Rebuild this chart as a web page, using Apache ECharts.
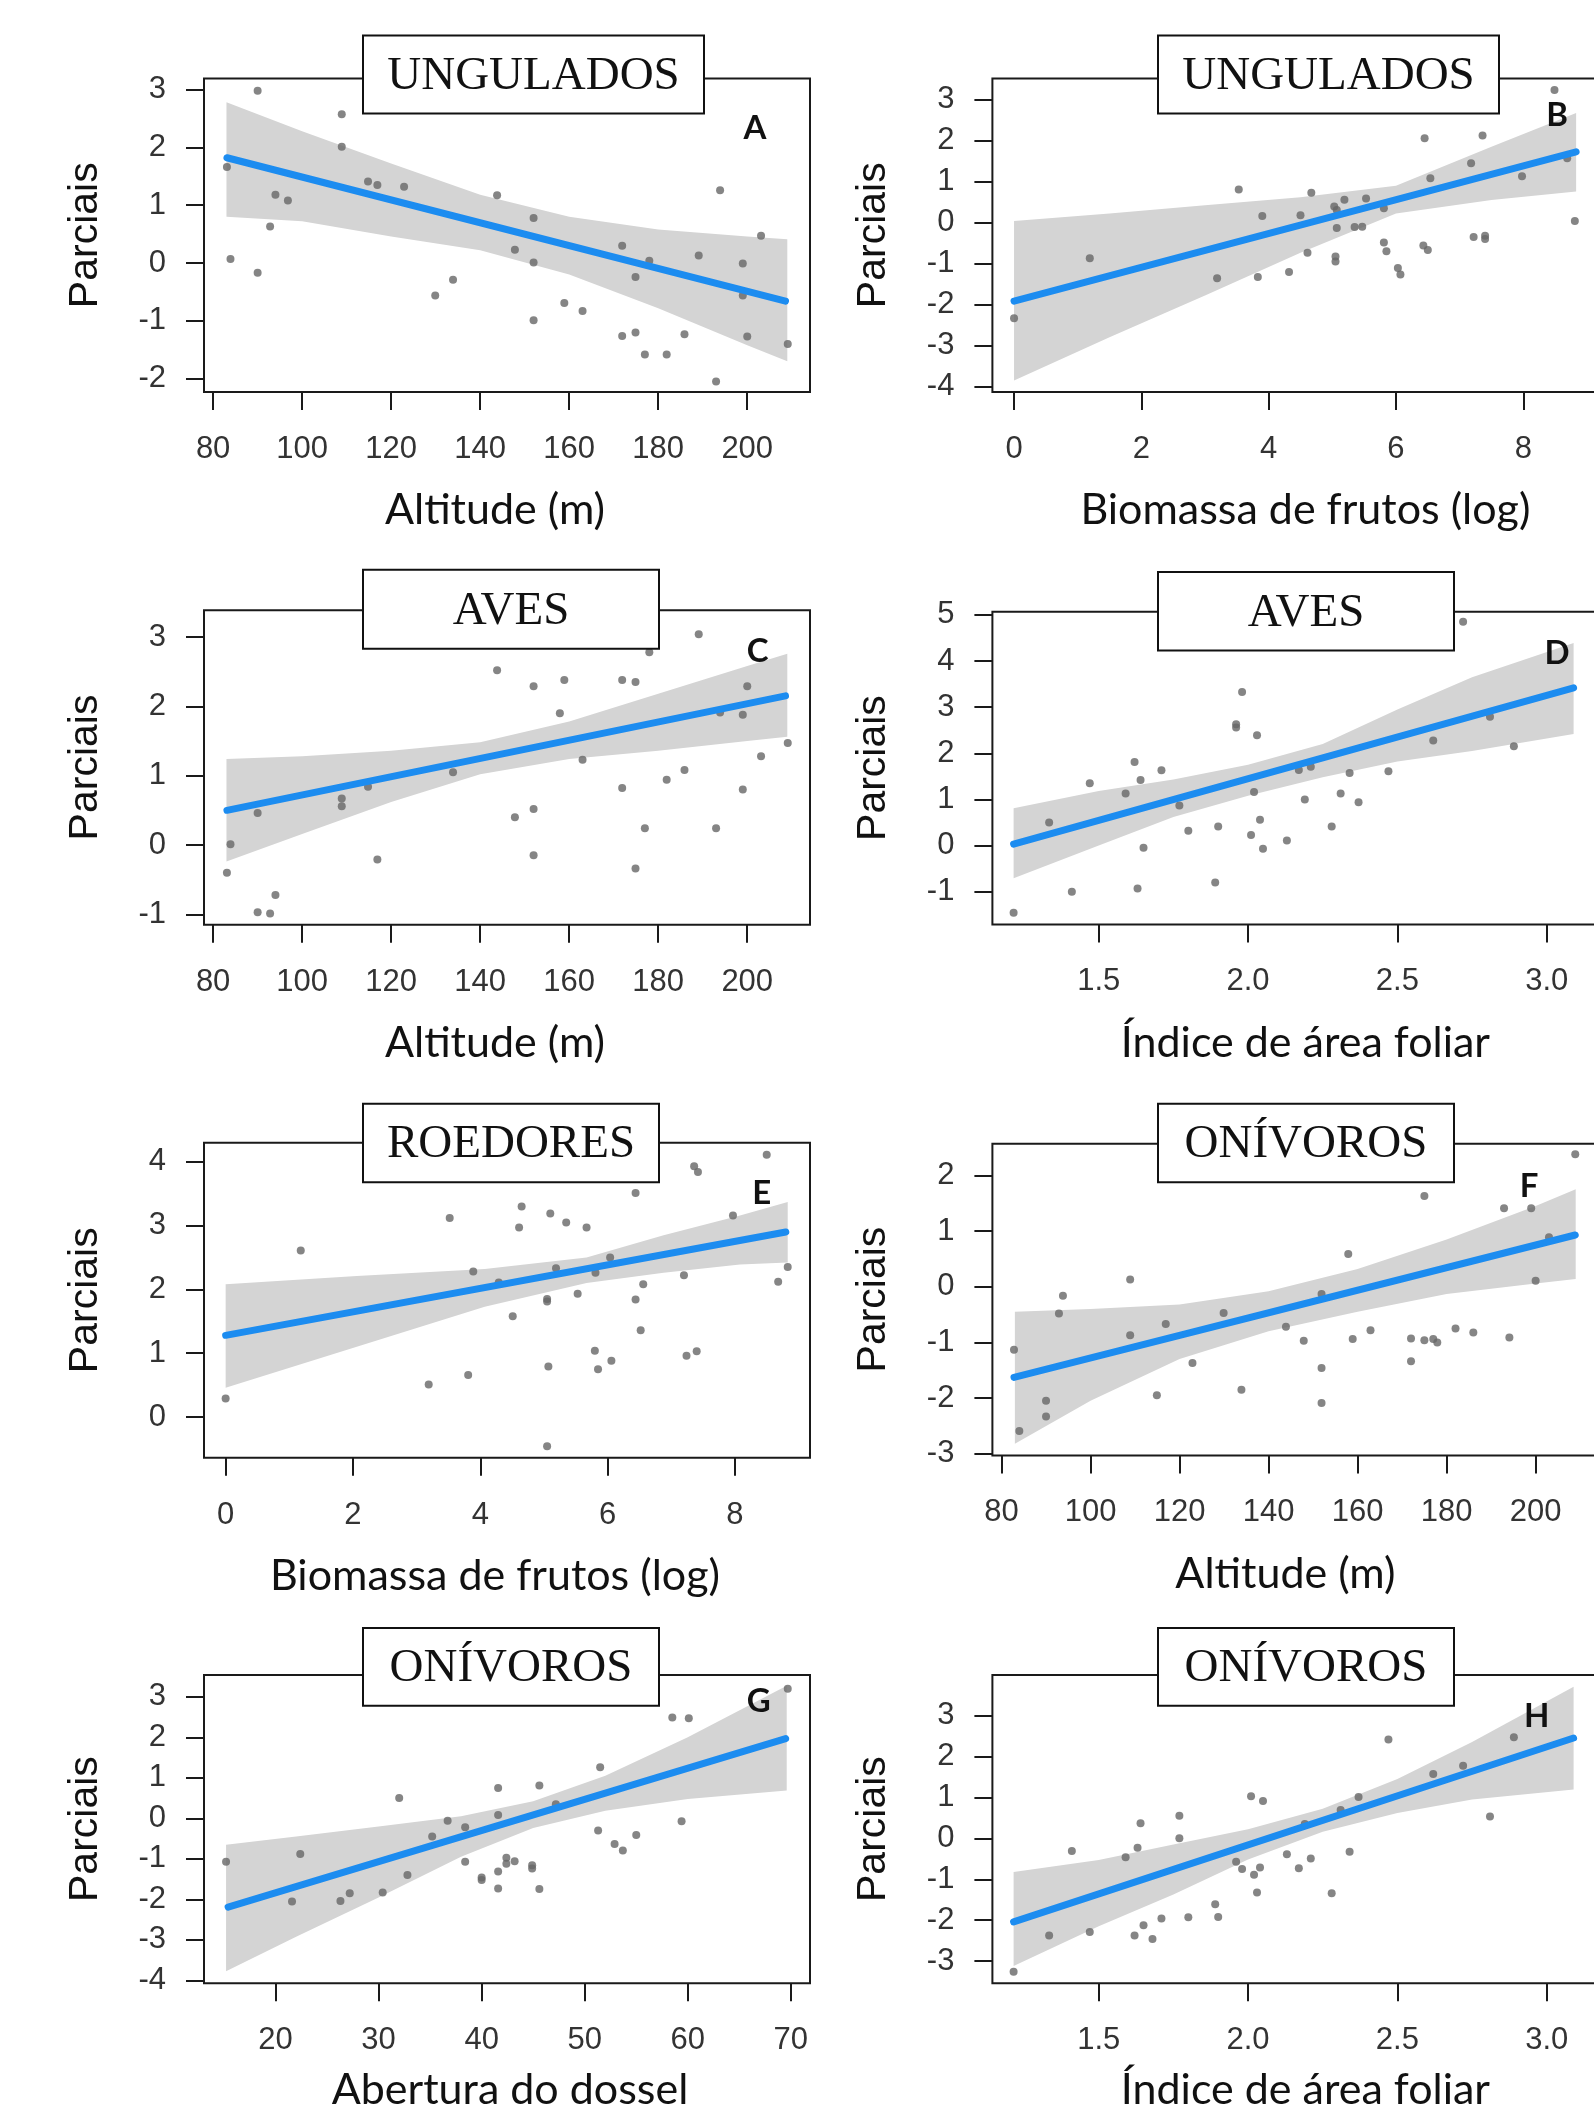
<!DOCTYPE html>
<html>
<head>
<meta charset="utf-8">
<title>Parciais</title>
<script src="https://cdn.jsdelivr.net/npm/echarts@6/dist/echarts.min.js"></script>
<style>
  html, body { margin: 0; padding: 0; background: #fff; }
  #chart { width: 1594px; height: 2115px; }
</style>
</head>
<body>
<div id="chart"></div>
<script>
// x tick labels
const altitudeTicks = [80, 100, 120, 140, 160, 180, 200]
const biomassTicks = [0, 2, 4, 6, 8]
const leafTicks = [1.5, 2.0, 2.5, 3.0]
const canopyTicks = [20, 30, 40, 50, 60, 70]

// y tick labels
const aTicksY = [-2, -1, 0, 1, 2, 3]
const bTicksY = [-4, -3, -2, -1, 0, 1, 2, 3]
const cTicksY = [-1, 0, 1, 2, 3]
const dTicksY = [-1, 0, 1, 2, 3, 4, 5]
const eTicksY = [0, 1, 2, 3, 4]
const fTicksY = [-3, -2, -1, 0, 1, 2]
const gTicksY = [-4, -3, -2, -1, 0, 1, 2, 3]
const hTicksY = [-3, -2, -1, 0, 1, 2, 3]

// A - ungulados / altitude
const aX = [83.1, 83.9, 90.0, 90.0, 92.8, 94.0, 96.8, 108.9, 108.9, 114.8, 116.9, 122.9, 129.9, 133.9, 143.8, 147.8, 152.0, 152.0, 152.0, 158.9, 163.0, 171.9, 171.9, 174.9, 174.9, 177.0, 178.0, 181.9, 185.9, 189.1, 193.0, 193.9, 199.0, 199.0, 200.0, 203.1, 209.1]
const aY = [1.66, 0.07, 2.98, -0.17, 0.63, 1.18, 1.08, 2.57, 2.01, 1.41, 1.35, 1.32, -0.56, -0.29, 1.17, 0.23, 0.78, 0.01, -0.99, -0.69, -0.83, 0.30, -1.26, -0.24, -1.20, -1.58, 0.04, -1.58, -1.23, 0.13, -2.05, 1.26, -0.01, -0.56, -1.27, 0.47, -1.40]
const aFitX = [83.1, 208.6]
const aFitY = [1.82, -0.66]
const aBandX = [83, 100, 120, 140, 160, 180, 200, 209]
const aBandUp = [2.78, 2.28, 1.72, 1.18, 0.80, 0.58, 0.46, 0.41]
const aBandLo = [0.80, 0.72, 0.46, 0.22, -0.20, -0.78, -1.42, -1.70]

// B - ungulados / biomassa de frutos
const bX = [0.0, 1.19, 3.19, 3.53, 3.83, 3.90, 4.32, 4.50, 4.61, 4.67, 5.03, 5.07, 5.05, 5.05, 5.07, 5.19, 5.35, 5.47, 5.53, 5.81, 5.81, 5.85, 6.03, 6.07, 6.45, 6.43, 6.50, 6.54, 7.18, 7.22, 7.36, 7.40, 7.40, 7.98, 8.49, 8.69, 8.81]
const bY = [-2.34, -0.87, -1.36, 0.81, -1.33, 0.16, -1.21, 0.18, -0.74, 0.73, 0.39, 0.31, -0.83, -0.95, -0.13, 0.56, -0.11, -0.10, 0.59, 0.35, -0.49, -0.70, -1.11, -1.27, 2.06, -0.56, -0.67, 1.08, 1.45, -0.35, 2.13, -0.32, -0.40, 1.13, 3.24, 1.57, 0.04]
const bFitX = [0, 8.83]
const bFitY = [-1.92, 1.73]
const bBandX = [0, 1.5, 3, 4.5, 6, 7.5, 8.83]
const bBandUp = [0.04, 0.22, 0.42, 0.62, 0.90, 1.85, 2.68]
const bBandLo = [-3.86, -2.80, -1.78, -0.74, 0.22, 0.55, 0.76]

// C - aves / altitude
const cX = [83.1, 83.9, 90.0, 90.0, 92.8, 94.0, 108.9, 108.9, 114.8, 116.9, 133.9, 143.8, 147.8, 152.0, 152.0, 152.0, 157.9, 158.9, 163.0, 171.9, 171.9, 174.9, 174.9, 177.0, 178.0, 181.9, 185.9, 189.1, 193.0, 193.9, 199.0, 199.0, 200.0, 203.1, 209.1]
const cY = [-0.40, 0.01, 0.46, -0.97, -0.99, -0.72, 0.67, 0.56, 0.84, -0.21, 1.05, 2.52, 0.40, 2.29, 0.52, -0.15, 1.90, 2.38, 1.23, 2.38, 0.82, 2.35, -0.34, 0.24, 2.78, 0.94, 1.08, 3.04, 0.24, 1.91, 1.88, 0.80, 2.29, 1.28, 1.47]
const cFitX = [83.1, 208.6]
const cFitY = [0.50, 2.15]
const cBandX = [83, 100, 120, 140, 160, 180, 200, 209]
const cBandUp = [1.24, 1.28, 1.36, 1.48, 1.78, 2.18, 2.58, 2.76]
const cBandLo = [-0.24, 0.16, 0.62, 1.02, 1.24, 1.36, 1.50, 1.56]

// D - aves / indice de area foliar
const dX = [1.215, 1.334, 1.41, 1.47, 1.59, 1.62, 1.63, 1.64, 1.65, 1.71, 1.77, 1.80, 1.89, 1.90, 1.96, 1.96, 1.98, 2.01, 2.02, 2.03, 2.04, 2.05, 2.13, 2.17, 2.19, 2.21, 2.28, 2.31, 2.34, 2.37, 2.47, 2.62, 2.72, 2.81, 2.89]
const dY = [-1.46, 0.50, -1.00, 1.35, 1.13, 1.81, -0.93, 1.42, -0.05, 1.63, 0.87, 0.32, -0.80, 0.41, 2.56, 2.63, 3.33, 0.23, 1.16, 2.39, 0.56, -0.07, 0.11, 1.64, 1.00, 1.71, 0.41, 1.13, 1.57, 0.94, 1.61, 2.28, 4.85, 2.79, 2.15]
const dFitX = [1.215, 3.09]
const dFitY = [0.03, 3.42]
const dBandX = [1.215, 1.5, 1.75, 2.0, 2.25, 2.5, 2.75, 3.09]
const dBandUp = [0.81, 1.18, 1.43, 1.75, 2.20, 2.95, 3.65, 4.39]
const dBandLo = [-0.71, 0.0, 0.62, 1.08, 1.48, 1.82, 2.05, 2.42]

// E - roedores / biomassa de frutos
const eX = [0.0, 1.18, 3.19, 3.52, 3.81, 3.89, 4.29, 4.51, 4.61, 4.65, 5.05, 5.05, 5.07, 5.05, 5.10, 5.19, 5.35, 5.53, 5.67, 5.80, 5.81, 5.85, 6.04, 6.06, 6.44, 6.44, 6.52, 6.56, 7.20, 7.24, 7.36, 7.42, 7.40, 7.97, 8.50, 8.68, 8.83]
const eY = [0.29, 2.61, 0.51, 3.12, 0.66, 2.28, 2.11, 1.58, 2.97, 3.30, 1.85, 1.81, 0.79, -0.46, 3.19, 2.33, 3.05, 1.93, 2.97, 1.04, 2.26, 0.75, 2.50, 0.88, 3.51, 1.84, 1.36, 2.08, 2.22, 0.96, 3.93, 3.84, 1.03, 3.16, 4.11, 2.12, 2.35]
const eFitX = [0, 8.80]
const eFitY = [1.28, 2.90]
const eBandX = [0, 2.06, 4.07, 5.67, 6.88, 8.08, 8.83]
const eBandUp = [2.08, 2.21, 2.32, 2.50, 2.85, 3.16, 3.37]
const eBandLo = [0.46, 1.10, 1.73, 2.10, 2.26, 2.39, 2.42]

// F - onivoros / altitude
const fX = [82.8, 84.0, 90.0, 90.0, 92.9, 93.8, 108.9, 108.9, 114.9, 116.9, 122.9, 129.9, 133.9, 143.9, 147.9, 151.9, 151.9, 151.9, 157.9, 158.9, 162.9, 172.0, 172.0, 175.0, 175.0, 177.0, 177.9, 182.0, 186.0, 192.9, 194.1, 199.0, 200.0, 203.0, 208.9]
const fY = [-1.13, -2.59, -2.05, -2.33, -0.48, -0.16, 0.13, -0.87, -1.95, -0.67, -1.37, -0.47, -1.85, -0.72, -0.97, -0.13, -1.46, -2.09, 0.59, -0.94, -0.78, -0.93, -1.34, 1.63, -0.96, -0.94, -1.00, -0.75, -0.82, 1.41, -0.91, 1.41, 0.11, 0.89, 2.38]
const fFitX = [82.8, 208.9]
const fFitY = [-1.63, 0.93]
const fBandX = [83, 100, 120, 140, 160, 180, 200, 209]
const fBandUp = [-0.45, -0.40, -0.32, -0.08, 0.32, 0.85, 1.45, 1.75]
const fBandLo = [-2.82, -2.05, -1.30, -0.80, -0.45, -0.13, 0.06, 0.14]

// G - onivoros / abertura do dossel
const gX = [15.2, 21.6, 22.4, 26.3, 27.2, 30.4, 32.0, 32.8, 35.2, 36.7, 38.4, 38.4, 40.0, 40.0, 41.6, 41.6, 41.6, 41.6, 42.4, 42.4, 43.2, 44.9, 44.9, 45.6, 45.6, 47.2, 51.3, 51.5, 52.9, 53.7, 55.0, 58.5, 59.4, 60.1, 69.7]
const gY = [-1.07, -2.05, -0.88, -2.04, -1.85, -1.83, 0.50, -1.40, -0.45, -0.06, -0.22, -1.07, -1.46, -1.52, 0.75, 0.08, -1.31, -1.73, -0.97, -1.12, -1.06, -1.16, -1.24, 0.81, -1.74, 0.35, -0.30, 1.26, -0.63, -0.79, -0.41, 2.49, -0.07, 2.47, 3.20]
const gFitX = [15.4, 69.5]
const gFitY = [-2.19, 1.97]
const gBandX = [15.2, 22, 30, 38, 45, 52, 60, 69.6]
const gBandUp = [-0.65, -0.45, -0.20, 0.05, 0.42, 1.05, 2.00, 3.27]
const gBandLo = [-3.77, -2.92, -1.95, -0.95, -0.24, 0.19, 0.48, 0.69]

// H - onivoros / indice de area foliar
const hX = [1.215, 1.334, 1.41, 1.47, 1.59, 1.62, 1.63, 1.64, 1.65, 1.68, 1.71, 1.77, 1.77, 1.80, 1.89, 1.90, 1.96, 1.98, 2.01, 2.02, 2.03, 2.04, 2.05, 2.13, 2.17, 2.19, 2.21, 2.28, 2.31, 2.34, 2.37, 2.47, 2.62, 2.72, 2.81, 2.89]
const hY = [-3.26, -2.37, -0.31, -2.29, -0.46, -2.37, -0.23, 0.37, -2.12, -2.46, -1.96, 0.55, 0.00, -1.93, -1.61, -1.92, -0.57, -0.75, 1.03, -0.89, -1.32, -0.71, 0.91, -0.39, -0.73, 0.35, -0.49, -1.34, 0.69, -0.33, 1.01, 2.41, 1.57, 1.77, 0.53, 2.47]
const hFitX = [1.215, 3.09]
const hFitY = [-2.04, 2.45]
const hBandX = [1.215, 1.5, 1.75, 2.0, 2.25, 2.5, 2.75, 3.09]
const hBandUp = [-0.82, -0.53, -0.15, 0.22, 0.72, 1.45, 2.35, 3.70]
const hBandLo = [-3.12, -2.15, -1.37, -0.52, 0.16, 0.62, 0.95, 1.19]

const panels = [
  { letter: 'A', title: 'UNGULADOS', xName: 'Altitude (m)', xTicks: altitudeTicks, yTicks: aTicksY,
    x: aX, y: aY, fitX: aFitX, fitY: aFitY, bandX: aBandX, bandUp: aBandUp, bandLo: aBandLo,
    box: [204, 78.5, 606, 313.5], xRange: [77.95, 214.1], yRange: [-2.23, 3.19],
    titleBox: [363, 35.5, 341, 78], letterAt: [755, 128], nameShift: -12, nameGap: 97 },
  { letter: 'B', title: 'UNGULADOS', xName: 'Biomassa de frutos (log)', xTicks: biomassTicks, yTicks: bTicksY,
    x: bX, y: bY, fitX: bFitX, fitY: bFitY, bandX: bBandX, bandUp: bBandUp, bandLo: bBandLo,
    box: [992.4, 78.5, 606, 313.5], xRange: [-0.34, 9.18], yRange: [-4.14, 3.52],
    titleBox: [1158, 35.5, 341, 78], letterAt: [1557, 115], nameShift: 10, nameGap: 97 },
  { letter: 'C', title: 'AVES', xName: 'Altitude (m)', xTicks: altitudeTicks, yTicks: cTicksY,
    x: cX, y: cY, fitX: cFitX, fitY: cFitY, bandX: cBandX, bandUp: cBandUp, bandLo: cBandLo,
    box: [204, 610.3, 606, 314.4], xRange: [77.95, 214.1], yRange: [-1.15, 3.385],
    titleBox: [363, 569.7, 296, 79], letterAt: [757.6, 651.6], nameShift: -12, nameGap: 97 },
  { letter: 'D', title: 'AVES', xName: 'Índice de área foliar', xTicks: leafTicks, yTicks: dTicksY,
    x: dX, y: dY, fitX: dFitX, fitY: dFitY, bandX: dBandX, bandUp: dBandUp, bandLo: dBandLo,
    box: [992.4, 611.7, 606, 312.7], xRange: [1.144, 3.173], yRange: [-1.71, 5.07],
    titleBox: [1158, 572, 296, 78.5], letterAt: [1557, 653], nameShift: 10, nameGap: 97 },
  { letter: 'E', title: 'ROEDORES', xName: 'Biomassa de frutos (log)', xTicks: biomassTicks, yTicks: eTicksY,
    x: eX, y: eY, fitX: eFitX, fitY: eFitY, bandX: eBandX, bandUp: eBandUp, bandLo: eBandLo,
    box: [204, 1142.7, 606, 315.1], xRange: [-0.34, 9.18], yRange: [-0.64, 4.30],
    titleBox: [363, 1103.8, 296, 78.4], letterAt: [761.7, 1193.4], nameShift: -12, nameGap: 97 },
  { letter: 'F', title: 'ONÍVOROS', xName: 'Altitude (m)', xTicks: altitudeTicks, yTicks: fTicksY,
    x: fX, y: fY, fitX: fFitX, fitY: fFitY, bandX: fBandX, bandUp: fBandUp, bandLo: fBandLo,
    box: [992.4, 1143.7, 606, 311.7], xRange: [77.95, 214.1], yRange: [-3.03, 2.57],
    titleBox: [1158, 1103.8, 296, 78.4], letterAt: [1529, 1186.6], nameShift: -10, nameGap: 97 },
  { letter: 'G', title: 'ONÍVOROS', xName: 'Abertura do dossel', xTicks: canopyTicks, yTicks: gTicksY,
    x: gX, y: gY, fitX: gFitX, fitY: gFitY, bandX: gBandX, bandUp: gBandUp, bandLo: gBandLo,
    box: [204, 1674.9, 606, 308.4], xRange: [13.06, 71.86], yRange: [-4.07, 3.54],
    titleBox: [363, 1627.9, 296, 77.8], letterAt: [758.7, 1701.8], nameShift: 3, nameGap: 85 },
  { letter: 'H', title: 'ONÍVOROS', xName: 'Índice de área foliar', xTicks: leafTicks, yTicks: hTicksY,
    x: hX, y: hY, fitX: hFitX, fitY: hFitY, bandX: hBandX, bandUp: hBandUp, bandLo: hBandLo,
    box: [992.4, 1674.9, 606, 308.4], xRange: [1.144, 3.173], yRange: [-3.54, 3.99],
    titleBox: [1158, 1627.9, 296, 77.8], letterAt: [1536.7, 1716.6], nameShift: 10, nameGap: 85 }
]

const INK = '#1a1a1a'
const BAND = '#d4d4d4'
const FIT = '#1c8cf0'
const DOT = '#666666'
const tickFont = "'Liberation Sans', Arial, sans-serif"
const nameFont = "Lato, 'Open Sans', sans-serif"

const grid = [], xAxis = [], yAxis = [], series = [], graphic = []

panels.forEach((p, i) => {
  const [left, top, width, height] = p.box
  grid.push({ left, top, width, height, show: true, borderColor: INK, borderWidth: 2,
    backgroundColor: 'transparent', containLabel: false, outerBoundsMode: 'none' })

  const shift = p.nameShift
  xAxis.push({
    gridIndex: i, type: 'value', min: p.xRange[0], max: p.xRange[1],
    name: p.xName, nameLocation: 'middle', nameGap: p.nameGap, nameMoveOverlap: false,
    nameTextStyle: { fontFamily: nameFont, fontSize: 43, color: '#111',
      padding: shift > 0 ? [0, 0, 0, 2 * shift] : [0, -2 * shift, 0, 0] },
    axisLine: { show: false, onZero: false },
    axisTick: { show: true, length: 18, customValues: p.xTicks, lineStyle: { color: INK, width: 2 } },
    axisLabel: { customValues: p.xTicks, margin: 42, fontSize: 31, fontFamily: tickFont, color: '#333',
      formatter: v => (p.xTicks === leafTicks ? v.toFixed(1) : String(v)) },
    splitLine: { show: false }
  })
  yAxis.push({
    gridIndex: i, type: 'value', min: p.yRange[0], max: p.yRange[1],
    name: 'Parciais', nameLocation: 'middle', nameGap: 98, nameRotate: 90, nameMoveOverlap: false,
    nameTextStyle: { fontFamily: tickFont, fontSize: 41, color: '#111' },
    axisLine: { show: false, onZero: false },
    axisTick: { show: true, length: 18, customValues: p.yTicks, lineStyle: { color: INK, width: 2 } },
    axisLabel: { customValues: p.yTicks, margin: 38, fontSize: 31, fontFamily: tickFont, color: '#333' },
    splitLine: { show: false }
  })

  // confidence band as one polygon
  series.push({
    type: 'custom', xAxisIndex: i, yAxisIndex: i, silent: true, z: 1,
    data: p.bandX.map((x, k) => [x, p.bandLo[k], p.bandUp[k]]),
    encode: { x: 0, y: [1, 2] },
    renderItem: (params, api) => {
      if (params.dataIndex !== 0) return
      const up = p.bandX.map((x, k) => api.coord([x, p.bandUp[k]]))
      const lo = p.bandX.map((x, k) => api.coord([x, p.bandLo[k]])).reverse()
      return { type: 'polygon', shape: { points: up.concat(lo) }, style: { fill: BAND } }
    }
  })
  series.push({
    type: 'scatter', xAxisIndex: i, yAxisIndex: i, z: 2, silent: true,
    symbolSize: 8, itemStyle: { color: DOT },
    data: p.x.map((v, k) => [v, p.y[k]])
  })
  series.push({
    type: 'line', xAxisIndex: i, yAxisIndex: i, z: 3, silent: true,
    showSymbol: false, symbol: 'none',
    lineStyle: { color: FIT, width: 7, cap: 'round' },
    data: p.fitX.map((v, k) => [v, p.fitY[k]])
  })

  // panel title box and letter
  const [tx, ty, tw, th] = p.titleBox
  graphic.push({
    type: 'rect', z: 50, silent: true,
    shape: { x: tx, y: ty, width: tw, height: th },
    style: { fill: '#fff', stroke: '#111', lineWidth: 2 }
  })
  graphic.push({
    type: 'text', z: 51, silent: true, x: tx + tw / 2, y: ty + th / 2 + 2,
    style: { text: p.title, fill: '#111', font: "47px 'Liberation Serif', 'Times New Roman', serif",
      align: 'center', verticalAlign: 'middle' }
  })
  graphic.push({
    type: 'text', z: 51, silent: true, x: p.letterAt[0], y: p.letterAt[1],
    style: { text: p.letter, fill: '#111', font: "bold 33px Lato, 'Open Sans', sans-serif",
      align: 'center', verticalAlign: 'middle' }
  })
})

const chart = echarts.init(document.getElementById('chart'), null, { renderer: 'canvas' })
chart.setOption({
  animation: false,
  backgroundColor: '#fff',
  grid, xAxis, yAxis, series, graphic
})
</script>
</body>
</html>
